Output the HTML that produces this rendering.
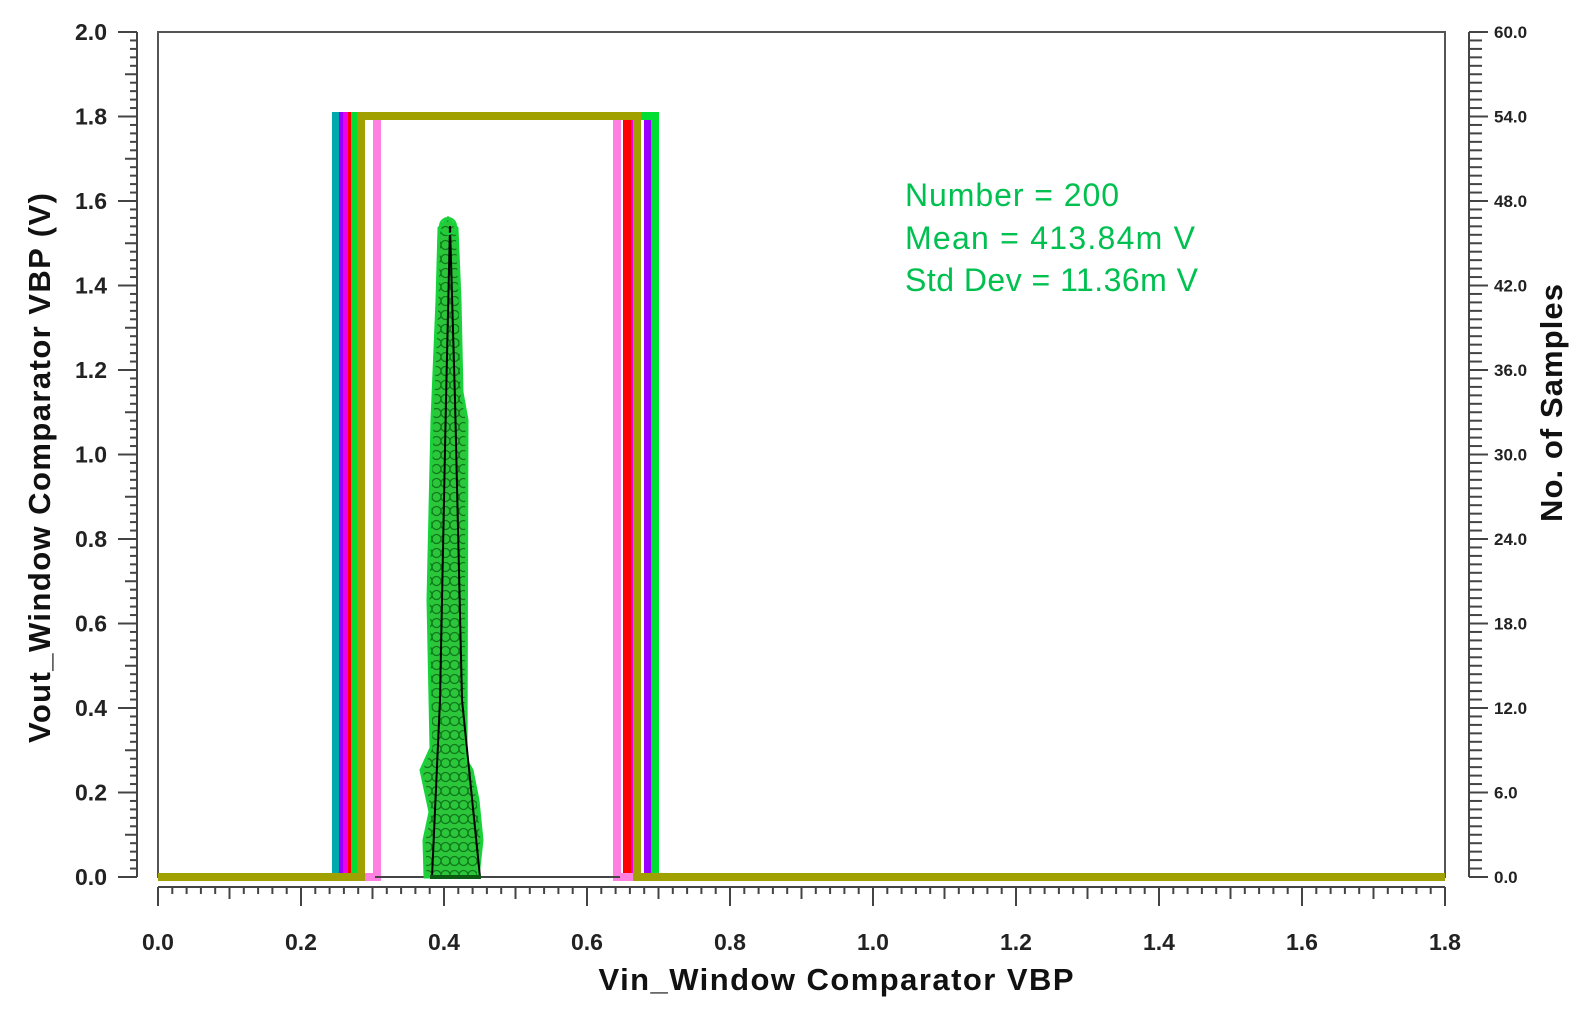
<!DOCTYPE html>
<html><head><meta charset="utf-8"><style>html,body{margin:0;padding:0;background:#fff}svg{display:block}</style></head>
<body>
<svg id="s" width="1590" height="1015" xmlns="http://www.w3.org/2000/svg" font-family="Liberation Sans, sans-serif">
<defs>
<pattern id="circ" width="9" height="14" patternUnits="userSpaceOnUse">
<rect width="9" height="14" fill="#2cc63a"/>
<circle cx="4.5" cy="7" r="4.5" fill="none" stroke="#0f7a1c" stroke-width="1.3"/>
</pattern>
</defs>
<rect x="158" y="32" width="1287" height="845" fill="none" stroke="#555" stroke-width="2"/>
<g id="ax"></g>
<g id="tr" fill="none" stroke-width="8" stroke-linejoin="miter"></g>
<line x1="375" y1="877" x2="620" y2="877" stroke="#444" stroke-width="2"/>
<polygon points="425,877 424,840 430,812 421,770 431,748 428,600 432,420 437,300 439,228 448,218 457,228 460,300 462,392 467,420 466,760 472,770 478,800 482,840 478,877" fill="url(#circ)" stroke="#19d23a" stroke-width="3"/>
<polyline points="432,877 440,700 446,400 450,226 455,400 462,700 480,877" fill="none" stroke="#000" stroke-width="2"/>
<line x1="430" y1="877" x2="481" y2="877" stroke="#0a5a12" stroke-width="4"/>
<circle cx="448" cy="226" r="8" fill="none" stroke="#19d23a" stroke-width="2"/>
<g fill="#00c050" font-size="32">
<text x="905" y="206" textLength="214">Number = 200</text>
<text x="905" y="249" textLength="290">Mean = 413.84m V</text>
<text x="905" y="291" textLength="293">Std Dev = 11.36m V</text>
</g>
<g font-weight="bold" fill="#111" font-size="31">
<text x="836" y="990" text-anchor="middle" textLength="475">Vin_Window Comparator VBP</text>
<text transform="translate(50,468) rotate(-90)" text-anchor="middle" textLength="550">Vout_Window Comparator VBP (V)</text>
<text transform="translate(1562,403) rotate(-90)" text-anchor="middle" textLength="238">No. of Samples</text>
</g>
</svg>
<script>
var ns="http://www.w3.org/2000/svg",ax=document.getElementById('ax'),tr=document.getElementById('tr');
function el(p,t,a,txt){var e=document.createElementNS(ns,t);for(var k in a)e.setAttribute(k,a[k]);if(txt)e.textContent=txt;p.appendChild(e);return e;}
function ln(x1,y1,x2,y2,w){el(ax,'line',{x1:x1,y1:y1,x2:x2,y2:y2,stroke:'#444','stroke-width':w||2});}
// left axis
ln(137,32,137,877);
for(var i=0;i<=100;i++){var y=877-845*i/100;var L=(i%10==0)?19:(i%5==0?12:7);ln(137-L,y,137,y);
 if(i%10==0)el(ax,'text',{x:107,y:y+8,'text-anchor':'end','font-size':23,'font-weight':'bold',fill:'#222'},(i/50).toFixed(1));}
// right axis
ln(1469,32,1469,877);
for(var i=0;i<=100;i++){var y=877-845*i/100;var L=(i%10==0)?19:13;ln(1469,y,1469+L,y);
 if(i%10==0)el(ax,'text',{x:1494,y:y+6,'font-size':17,'font-weight':'bold',fill:'#222'},(i*0.6).toFixed(1));}
// x axis
ln(158,887,1445,887);
for(var i=0;i<=90;i++){var x=158+1287*i/90;var L=(i%10==0)?19:(i%5==0?12:7);ln(x,887,x,887+L);
 if(i%10==0)el(ax,'text',{x:x,y:950,'text-anchor':'middle','font-size':23,'font-weight':'bold',fill:'#222'},(i/50).toFixed(1));}
// traces
var T=[['#00aaaa',336,650],['#9900ff',343,648],['#ee00ee',347,630],['#ff0000',352,627],['#00dd33',355,655],['#ff80e0',377,617],['#a0a000',361,637]];
T.forEach(function(t){el(tr,'polyline',{stroke:t[0],points:'158,877 '+t[1]+',877 '+t[1]+',116 '+t[2]+',116 '+t[2]+',877 1445,877'});});
</script>
</body></html>
